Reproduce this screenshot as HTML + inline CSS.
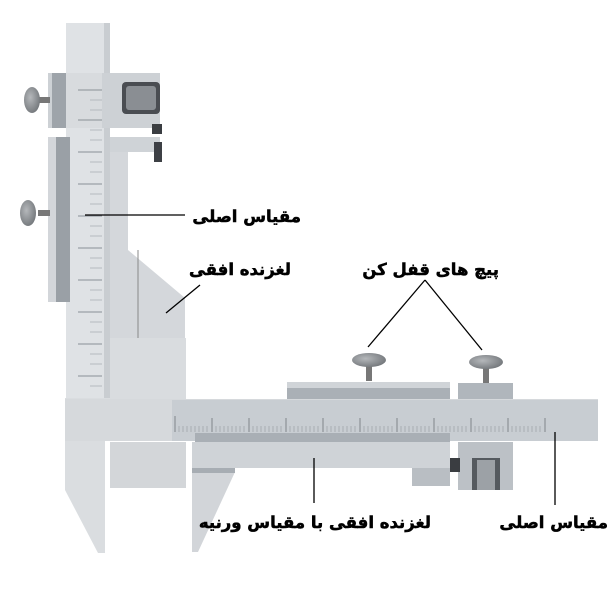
<!DOCTYPE html>
<html><head><meta charset="utf-8"><style>
html,body{margin:0;padding:0;background:#fff;}
svg{display:block}
text{font-family:"DejaVu Sans","Noto Sans CJK SC",sans-serif;font-weight:bold;fill:#000;stroke:#000;stroke-width:0.5}
</style></head><body>
<svg width="616" height="593" viewBox="0 0 616 593" xmlns="http://www.w3.org/2000/svg">
<defs>
<radialGradient id="kn" cx="0.4" cy="0.4" r="0.7"><stop offset="0" stop-color="#b5b8bb"/><stop offset="1" stop-color="#6e7276"/></radialGradient>
</defs>
<rect x="66" y="23" width="44" height="380" fill="#dfe2e5"/>
<rect x="104" y="23" width="6" height="380" fill="#c9cdd1"/>
<polygon points="65,398 110,398 110,440 105,440 105,553 98,553 65,490" fill="#dadde0"/>
<rect x="48" y="73" width="112" height="55" fill="#cdd1d5"/>
<rect x="52" y="73" width="16" height="55" fill="#9ea4aa"/>
<rect x="66" y="73" width="36" height="55" fill="#d8dbde"/>
<rect x="122" y="82" width="38" height="32" rx="4" fill="#4a4d52"/>
<rect x="126" y="86" width="30" height="24" rx="3" fill="#8a8e93"/>
<rect x="152" y="124" width="10" height="10" fill="#3a3d41"/>
<rect x="48" y="137" width="20" height="165" fill="#d3d6da"/>
<rect x="56" y="137" width="14" height="165" fill="#9aa0a6"/>
<rect x="110" y="137" width="50" height="15" fill="#cfd3d7"/>
<polygon points="110,152 128,152 128,250 185,298 185,400 110,400" fill="#d4d7db"/>
<rect x="154" y="142" width="8" height="20" fill="#3d4045"/>
<rect x="110" y="338" width="76" height="62" fill="#d9dcdf"/>
<line x1="138" y1="250" x2="138" y2="338" stroke="#888" stroke-width="1"/>
<g stroke="#8a9096" stroke-width="1">
<path d="M78 90h24M78 120h24M78 152h24M78 184h24M78 216h24M78 248h24M78 280h24M78 312h24M78 344h24M78 376h24"/>
</g>
<g stroke="#a8adb2" stroke-width="0.7">
<path d="M90 100h12M90 110h12M90 130h12M90 140h12M90 162h12M90 172h12M90 194h12M90 204h12M90 226h12M90 236h12M90 258h12M90 268h12M90 290h12M90 300h12M90 322h12M90 332h12M90 354h12M90 364h12M90 386h12"/>
</g>
<rect x="38" y="97" width="12" height="6" fill="#777"/>
<ellipse cx="32" cy="100" rx="8" ry="13" fill="url(#kn)"/>
<rect x="38" y="210" width="12" height="6" fill="#777"/>
<ellipse cx="28" cy="213" rx="8" ry="13" fill="url(#kn)"/>
<rect x="287" y="382" width="163" height="20" fill="#d0d4d8"/>
<rect x="287" y="388" width="163" height="14" fill="#aab0b6"/>
<rect x="458" y="383" width="55" height="19" fill="#b0b6bc"/>
<rect x="366" y="363" width="6" height="18" fill="#777"/>
<ellipse cx="369" cy="360" rx="17" ry="7" fill="url(#kn)"/>
<rect x="483" y="365" width="6" height="18" fill="#777"/>
<ellipse cx="486" cy="362" rx="17" ry="7" fill="url(#kn)"/>
<rect x="65" y="399" width="533" height="42" fill="#d6d9dc"/>
<rect x="172" y="400" width="426" height="41" fill="#c8cdd2"/>
<g stroke="#7f858b" stroke-width="1">
<path d="M175 416v16M212 418v14M249 418v14M286 418v14M323 418v14M360 418v14M397 418v14M434 418v14M471 418v14M508 418v14M545 418v14"/>
</g>
<g stroke="#9aa0a6" stroke-width="0.7">
<path d="M179 426v6M183 426v6M187 426v6M191 426v6M195 426v6M199 426v6M203 426v6M207 426v6M216 426v6M220 426v6M224 426v6M228 426v6M232 426v6M236 426v6M240 426v6M244 426v6M253 426v6M257 426v6M261 426v6M265 426v6M269 426v6M273 426v6M277 426v6M281 426v6M290 426v6M294 426v6M298 426v6M302 426v6M306 426v6M310 426v6M314 426v6M318 426v6M327 426v6M331 426v6M335 426v6M339 426v6M343 426v6M347 426v6M351 426v6M355 426v6M364 426v6M368 426v6M372 426v6M376 426v6M380 426v6M384 426v6M388 426v6M392 426v6M401 426v6M405 426v6M409 426v6M413 426v6M417 426v6M421 426v6M425 426v6M429 426v6M438 426v6M442 426v6M446 426v6M450 426v6M454 426v6M458 426v6M462 426v6M466 426v6M475 426v6M479 426v6M483 426v6M487 426v6M491 426v6M495 426v6M499 426v6M503 426v6M512 426v6M516 426v6M520 426v6M524 426v6M528 426v6M532 426v6M536 426v6M540 426v6"/>
</g>
<rect x="195" y="433" width="255" height="9" fill="#a9afb5"/>
<rect x="192" y="442" width="258" height="26" fill="#cfd3d7"/>
<polygon points="192,468 235,468 235,472 198,552 192,552" fill="#d2d5d9"/>
<rect x="192" y="468" width="43" height="5" fill="#a7adb3"/>
<rect x="412" y="468" width="38" height="18" fill="#b9bec3"/>
<rect x="110" y="442" width="76" height="46" fill="#d3d6d9"/>
<rect x="458" y="442" width="55" height="48" fill="#bcc1c6"/>
<rect x="450" y="458" width="10" height="14" fill="#3a3d41"/>
<rect x="472" y="458" width="28" height="32" fill="#555a5f"/>
<rect x="477" y="460" width="18" height="30" fill="#9ca1a6"/>
<g stroke="#000" stroke-width="1.3" fill="none">
<line x1="85" y1="215" x2="185" y2="215"/>
<line x1="200" y1="285" x2="166" y2="313"/>
<line x1="425" y1="280" x2="368" y2="347"/>
<line x1="425" y1="280" x2="482" y2="350"/>
<line x1="314" y1="458" x2="314" y2="503"/>
<line x1="555" y1="432" x2="555" y2="505"/>
</g>
<g font-size="16.5" text-anchor="end">
<text x="301" y="222">مقیاس اصلی</text>
<text x="291" y="275">لغزنده افقی</text>
<text x="499" y="275">پیچ های قفل کن</text>
<text x="431" y="528">لغزنده افقی با مقیاس ورنیه</text>
<text x="608" y="528">مقیاس اصلی</text>
</g>
</svg>
</body></html>
